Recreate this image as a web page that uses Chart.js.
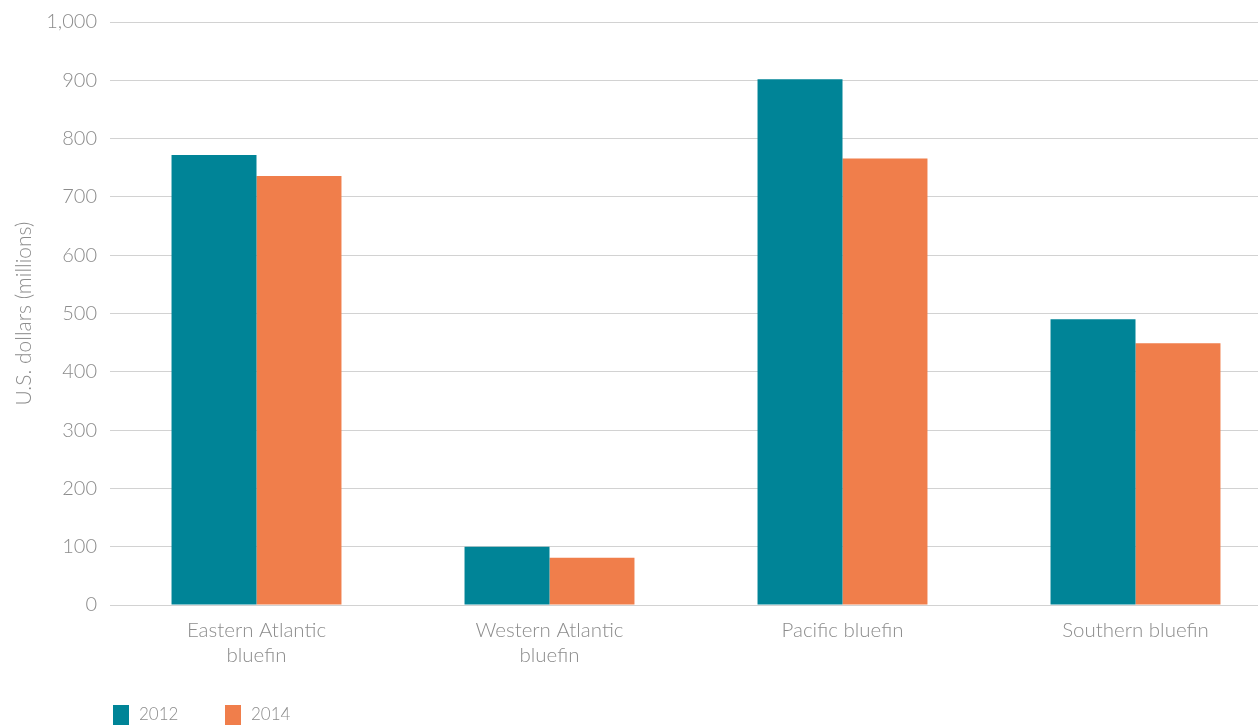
<!DOCTYPE html>
<html>
<head>
<meta charset="utf-8">
<script src="https://cdn.jsdelivr.net/npm/chart.js@4"></script>
<style>
	body { margin: 0; overflow: hidden; background: #fff; }
	#wrap { position: relative; width: 1282px; height: 725px; }
</style>
</head>
<body>
<div id="wrap"><canvas id="barchart"></canvas></div>
<script>
const categories = [['Eastern Atlantic', 'bluefin'], ['Western Atlantic', 'bluefin'], 'Pacific bluefin', 'Southern bluefin'];
const values2012 = [772, 100, 902, 490];
const values2014 = [736, 81, 766, 449];
const yTicks = [0, 100, 200, 300, 400, 500, 600, 700, 800, 900, 1000];

const FONT = "Lato, 'Open Sans', sans-serif";
const GREY = '#8c8c8c';

// legend sits under the axis labels, bottom left
const bottomLegend = {
	id: 'bottomLegend',
	afterDraw(chart) {
		const ctx = chart.ctx;
		const xs = [113, 225];
		ctx.save();
		ctx.font = '300 17px ' + FONT;
		ctx.textBaseline = 'middle';
		chart.data.datasets.forEach((ds, i) => {
			ctx.fillStyle = ds.backgroundColor;
			ctx.fillRect(xs[i], 705, 16, 20);
			ctx.fillStyle = GREY;
			ctx.fillText(ds.label, xs[i] + 26, 715);
		});
		ctx.restore();
	}
};

new Chart(document.getElementById("barchart"), {
	type: 'bar',
	data: {
		labels: categories,
		datasets: [{
			data: values2012,
			label: '2012',
			backgroundColor: "#008497",
			borderWidth: 0,
		}, {
			data: values2014,
			label: '2014',
			backgroundColor: "#F07E4B",
			borderWidth: 0,
		}]
	},
	options: {
		responsive: true,
		maintainAspectRatio: false,
		animation: false,
		layout: { padding: { top: 22, left: 0, right: 0, bottom: 0 } },
		categoryPercentage: 0.58,
		barPercentage: 1.0,
		plugins: {
			legend: { display: false },
			tooltip: { enabled: false },
		},
		scales: {
			x: {
				grid: { display: false },
				border: { display: false },
				ticks: {
					color: GREY,
					font: { family: FONT, size: 20.5, weight: 300, lineHeight: 1.22 },
					padding: 5,
					maxRotation: 0,
				},
				afterFit(scale) { scale.height = 120; },
			},
			y: {
				min: 0,
				max: 1000,
				afterBuildTicks(scale) { scale.ticks = yTicks.map(v => ({ value: v })); },
				grid: { color: '#d2d2d2', lineWidth: 1, drawTicks: false },
				border: { display: false },
				ticks: {
					color: GREY,
					font: { family: FONT, size: 20, weight: 300 },
					padding: 13,
					callback: v => v.toLocaleString('en-US'),
				},
				title: {
					display: true,
					text: 'U.S. dollars (millions)',
					color: GREY,
					font: { family: FONT, size: 21, weight: 300 },
					padding: { top: 12, bottom: 0 },
				},
				afterFit(scale) {
					scale.width = 110;
					scale.paddingTop = 0;
				},
			}
		}
	},
	plugins: [bottomLegend]
});
</script>
</body>
</html>
